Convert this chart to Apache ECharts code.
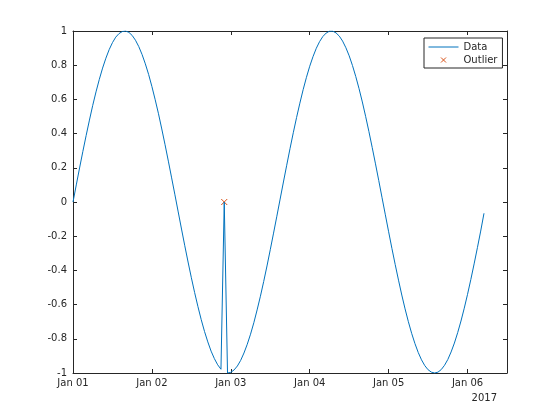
<!DOCTYPE html>
<html>
<head>
<meta charset="utf-8">
<script src="https://cdn.jsdelivr.net/npm/echarts@6/dist/echarts.min.js"></script>
<style>html,body{margin:0;padding:0;background:#fff}#c{width:560px;height:420px}</style>
</head>
<body>
<div id="c"></div>
<script>
// Hourly samples starting 2017-01-01 00:00
const startTime = Date.UTC(2017, 0, 1);
const hourMs = 3600000;
const values = [
  0.000, 0.100, 0.199, 0.296, 0.389, 0.479, 0.565, 0.644, 0.717, 0.783,
  0.841, 0.891, 0.932, 0.964, 0.985, 0.997, 1.000, 0.992, 0.974, 0.946,
  0.909, 0.863, 0.808, 0.746, 0.675, 0.598, 0.516, 0.427, 0.335, 0.239,
  0.141, 0.042, -0.058, -0.158, -0.256, -0.351, -0.443, -0.530, -0.612, -0.688,
  -0.757, -0.818, -0.872, -0.916, -0.952, -0.978, 0.000, -1.000, -0.996, -0.982,
  -0.959, -0.926, -0.883, -0.832, -0.773, -0.706, -0.631, -0.551, -0.465, -0.374,
  -0.279, -0.182, -0.083, 0.017, 0.117, 0.215, 0.312, 0.405, 0.494, 0.578,
  0.657, 0.729, 0.794, 0.850, 0.899, 0.938, 0.968, 0.988, 0.999, 0.999,
  0.989, 0.970, 0.941, 0.902, 0.855, 0.798, 0.734, 0.663, 0.585, 0.501,
  0.412, 0.319, 0.223, 0.125, 0.025, -0.075, -0.174, -0.272, -0.366, -0.457,
  -0.544, -0.625, -0.700, -0.768, -0.828, -0.880, -0.923, -0.957, -0.981, -0.995,
  -1.000, -0.995, -0.980, -0.955, -0.921, -0.877, -0.825, -0.764, -0.696, -0.621,
  -0.540, -0.453, -0.362, -0.267, -0.170, -0.066
];
const outlierHours = [46];
const outlierValues = [0];
const monthNames = ['Jan'];
const yearLabel = '2017';

const dataPts = values.map((v, k) => [startTime + k * hourMs, v]);
const outPts = outlierHours.map((h, i) => [startTime + h * hourMs, outlierValues[i]]);

const axisCol = '#262626';
const font = 'DejaVu Sans';
const xMin = startTime;
const xMax = Date.UTC(2017, 0, 6, 12);
const dayMs = 86400000;
const xPath = 'path://M0,0L10,10M10,0L0,10';

function fmtDay(v) {
  const d = new Date(v);
  if (d.getUTCHours() !== 0) return '';
  const dd = d.getUTCDate();
  return monthNames[d.getUTCMonth()] + ' ' + (dd < 10 ? '0' + dd : dd);
}

const baseX = {
  type: 'value', min: xMin, max: xMax, interval: dayMs,
  axisLine: { show: true, onZero: false, lineStyle: { color: axisCol, width: 1 } },
  axisTick: { show: true, inside: true, length: 4, lineStyle: { color: axisCol } },
  splitLine: { show: false }
};
const baseY = {
  type: 'value', min: -1, max: 1, interval: 0.2,
  axisLine: { show: true, onZero: false, lineStyle: { color: axisCol, width: 1 } },
  axisTick: { show: true, inside: true, length: 4, lineStyle: { color: axisCol } },
  splitLine: { show: false }
};

const chart = echarts.init(document.getElementById('c'), null, { renderer: 'canvas' });
chart.setOption({
  animation: false,
  backgroundColor: '#fff',
  grid: { left: 73, right: 53, top: 31, bottom: 47 },
  xAxis: [
    Object.assign({}, baseX, {
      position: 'bottom',
      axisLabel: { show: true, showMaxLabel: false, margin: 5, color: axisCol, fontFamily: font, fontSize: 10, formatter: fmtDay }
    }),
    Object.assign({}, baseX, { position: 'top', axisLabel: { show: false } })
  ],
  yAxis: [
    Object.assign({}, baseY, {
      position: 'left',
      axisLabel: { show: true, margin: 6, color: axisCol, fontFamily: font, fontSize: 10,
        formatter: v => String(Math.round(v * 10) / 10) }
    }),
    Object.assign({}, baseY, { position: 'right', axisLabel: { show: false } })
  ],
  legend: {
    left: 424, top: 38, orient: 'vertical',
    backgroundColor: '#fff', borderColor: axisCol, borderWidth: 1, borderRadius: 0,
    padding: [3, 5, 2, 4], itemGap: 1, itemWidth: 30, itemHeight: 5,
    lineStyle: { width: 1 },
    textStyle: { color: axisCol, fontFamily: font, fontSize: 10, lineHeight: 12 },
    data: [
      { name: 'Data', itemStyle: { opacity: 0 }, lineStyle: { width: 1, color: '#0072BD' } },
      { name: 'Outlier', icon: xPath, itemStyle: { color: 'rgba(0,0,0,0)', borderColor: '#D95319', borderWidth: 1 } }
    ]
  },
  graphic: [{
    type: 'text', right: 63, top: 393,
    style: { text: yearLabel, fill: axisCol, font: '10px "DejaVu Sans"' }
  }],
  series: [
    {
      name: 'Data', type: 'line', data: dataPts, showSymbol: false, symbol: 'none',
      lineStyle: { color: '#0072BD', width: 1 }, itemStyle: { color: '#0072BD' }
    },
    {
      name: 'Outlier', type: 'scatter', data: outPts,
      symbol: xPath, symbolSize: 6,
      itemStyle: { color: 'rgba(0,0,0,0)', borderColor: '#D95319', borderWidth: 1, opacity: 1 }
    }
  ]
});
</script>
</body>
</html>
